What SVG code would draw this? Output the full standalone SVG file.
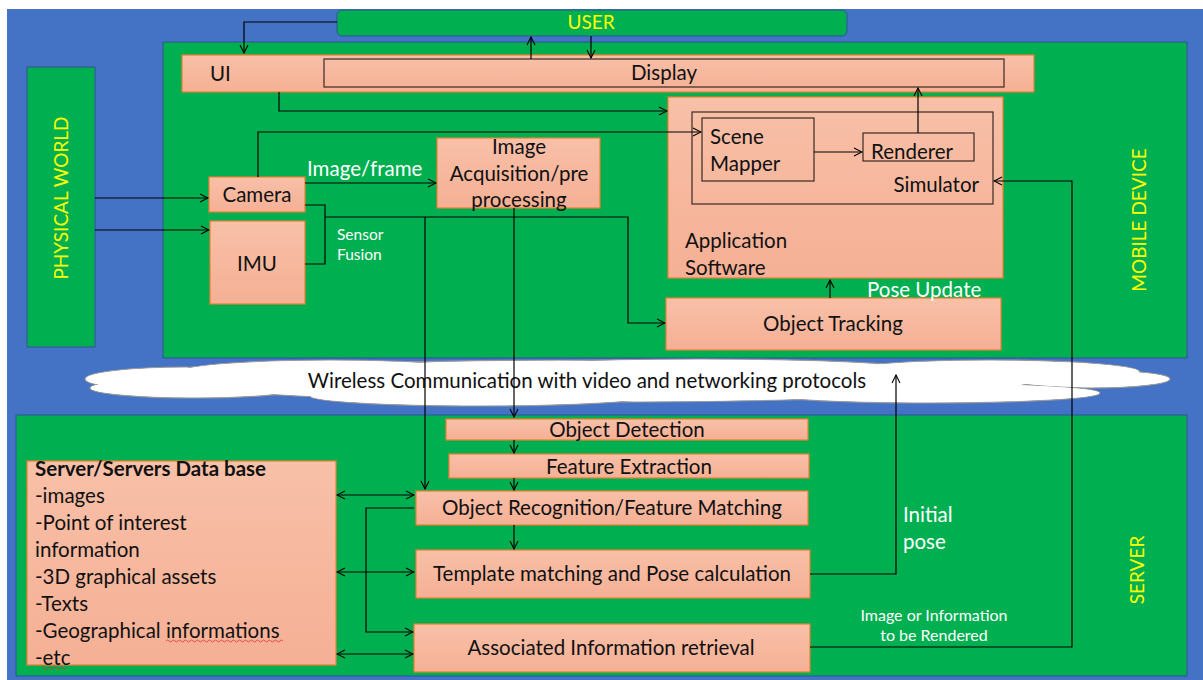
<svg xmlns="http://www.w3.org/2000/svg" width="1203" height="680" viewBox="0 0 1203 680">
  <defs>
    <style>
      .panel { fill: #00B050; stroke: #2F5597; stroke-width: 1; }
      .box { fill: url(#salmon); stroke: #ED7D31; stroke-width: 1.2; }
      .inner { fill: none; stroke: #3a2a22; stroke-width: 1.2; }
      .t { font-family: Lato, "Open Sans", sans-serif; fill: #111; font-size: 20.5px; }
      .w { font-family: Lato, "Open Sans", sans-serif; fill: #ffffff; }
      .y { font-family: Lato, "Open Sans", sans-serif; fill: #FFFF00; font-size: 19px; }
      .c { fill: none; stroke: #000; stroke-width: 1.2; }
    </style>
    <linearGradient id="salmon" x1="0" y1="0" x2="0" y2="1">
      <stop offset="0" stop-color="#F8C0A8"/>
      <stop offset="1" stop-color="#F5B095"/>
    </linearGradient>
    <marker id="ah" viewBox="0 0 10 10" refX="9" refY="5" markerWidth="10" markerHeight="10" markerUnits="userSpaceOnUse" orient="auto-start-reverse">
      <path d="M1,1 L9,5 L1,9" fill="none" stroke="#000" stroke-width="1.1"/>
    </marker>
  </defs>

  <!-- background -->
  <rect x="0" y="0" width="1203" height="680" fill="#ffffff"/>
  <rect x="7" y="9" width="1196" height="671" fill="#4472C4"/>

  <!-- regions -->
  <g id="user">
    <rect x="337" y="10" width="510" height="26" rx="5" class="panel"/>
    <text x="591" y="29" class="y" text-anchor="middle">USER</text>
  </g>
  <g id="mobile-device">
    <rect x="163" y="42" width="1024" height="316" class="panel"/>
    <text transform="translate(1146,220) rotate(-90)" class="y" text-anchor="middle">MOBILE DEVICE</text>
  </g>
  <g id="physical-world">
    <rect x="27" y="67" width="68" height="280" class="panel"/>
    <text transform="translate(68,198) rotate(-90)" class="y" text-anchor="middle">PHYSICAL WORLD</text>
  </g>
  <g id="server">
    <rect x="16" y="415" width="1171" height="261" class="panel"/>
    <text transform="translate(1144,570) rotate(-90)" class="y" text-anchor="middle">SERVER</text>
  </g>

  <!-- mobile device components -->
  <g id="ui">
    <rect x="182" y="55" width="852" height="37" class="box"/>
    <text x="210" y="81" class="t">UI</text>
  </g>
  <g id="display">
    <rect x="324" y="59" width="680" height="28" class="inner"/>
    <text x="664" y="80" class="t" text-anchor="middle">Display</text>
  </g>
  <g id="application-software">
    <rect x="668" y="97" width="335" height="181" class="box"/>
    <text x="685" y="248" class="t">Application</text>
    <text x="685" y="275" class="t">Software</text>
  </g>
  <g id="simulator">
    <rect x="692" y="112" width="301" height="92" class="inner"/>
    <text x="979" y="192" class="t" text-anchor="end">Simulator</text>
  </g>
  <g id="scene-mapper">
    <rect x="702" y="118" width="112" height="63" class="inner"/>
    <text x="710" y="144" class="t">Scene</text>
    <text x="710" y="171" class="t">Mapper</text>
  </g>
  <g id="renderer">
    <rect x="863" y="133" width="111" height="28" class="inner"/>
    <text x="871" y="159" class="t">Renderer</text>
  </g>
  <g id="camera">
    <rect x="209" y="177" width="96" height="35" class="box"/>
    <text x="257" y="202" class="t" text-anchor="middle">Camera</text>
  </g>
  <g id="imu">
    <rect x="210" y="221" width="95" height="83" class="box"/>
    <text x="257" y="271" class="t" text-anchor="middle">IMU</text>
  </g>
  <g id="image-acquisition">
    <rect x="437" y="138" width="163" height="70" class="box"/>
    <text x="519" y="154" class="t" text-anchor="middle">Image</text>
    <text x="519" y="181" class="t" text-anchor="middle">Acquisition/pre</text>
    <text x="519" y="207" class="t" text-anchor="middle">processing</text>
  </g>
  <g id="object-tracking">
    <rect x="666" y="298" width="335" height="52" class="box"/>
    <text x="833" y="331" class="t" text-anchor="middle">Object Tracking</text>
  </g>

  <!-- wireless link -->
  <g id="wireless">
    <g fill="#ffffff" stroke="#9a9a9a" stroke-width="1.2">
      <ellipse cx="600" cy="381" rx="430" ry="21"/>
      <ellipse cx="185" cy="379" rx="100" ry="12"/>
      <ellipse cx="330" cy="372" rx="150" ry="12"/>
      <ellipse cx="700" cy="369" rx="210" ry="10"/>
      <ellipse cx="990" cy="372" rx="150" ry="12"/>
      <ellipse cx="1090" cy="379" rx="80" ry="9"/>
      <ellipse cx="195" cy="388" rx="105" ry="10"/>
      <ellipse cx="480" cy="396" rx="170" ry="10"/>
      <ellipse cx="930" cy="393" rx="170" ry="10"/>
    </g>
    <g fill="#ffffff">
      <ellipse cx="600" cy="381" rx="429" ry="20"/>
      <ellipse cx="185" cy="379" rx="99" ry="11"/>
      <ellipse cx="330" cy="372" rx="149" ry="11"/>
      <ellipse cx="700" cy="369" rx="209" ry="9"/>
      <ellipse cx="990" cy="372" rx="149" ry="11"/>
      <ellipse cx="1090" cy="379" rx="79" ry="8"/>
      <ellipse cx="195" cy="388" rx="104" ry="9"/>
      <ellipse cx="480" cy="396" rx="169" ry="9"/>
      <ellipse cx="930" cy="393" rx="169" ry="9"/>
    </g>
    <text x="587" y="388" class="t" text-anchor="middle">Wireless Communication with video and networking protocols</text>
  </g>

  <!-- server components -->
  <g id="object-detection">
    <rect x="446" y="419" width="362" height="21" class="box"/>
    <text x="627" y="437" class="t" text-anchor="middle">Object Detection</text>
  </g>
  <g id="feature-extraction">
    <rect x="449" y="454" width="360" height="24" class="box"/>
    <text x="629" y="474" class="t" text-anchor="middle">Feature Extraction</text>
  </g>
  <g id="object-recognition">
    <rect x="416" y="491" width="392" height="34" class="box"/>
    <text x="612" y="515" class="t" text-anchor="middle">Object Recognition/Feature Matching</text>
  </g>
  <g id="template-matching">
    <rect x="416" y="550" width="394" height="48" class="box"/>
    <text x="612" y="581" class="t" text-anchor="middle">Template matching and Pose calculation</text>
  </g>
  <g id="information-retrieval">
    <rect x="414" y="624" width="396" height="48" class="box"/>
    <text x="611" y="655" class="t" text-anchor="middle">Associated Information retrieval</text>
  </g>
  <g id="database">
    <rect x="27" y="461" width="309" height="204" class="box"/>
    <text x="35" y="476" class="t" font-weight="bold">Server/Servers Data base</text>
    <text x="35" y="503" class="t">-images</text>
    <text x="35" y="530" class="t">-Point of interest</text>
    <text x="35" y="557" class="t">information</text>
    <text x="35" y="584" class="t">-3D graphical assets</text>
    <text x="35" y="611" class="t">-Texts</text>
    <text x="35" y="638" class="t">-Geographical informations</text>
    <text x="35" y="665" class="t">-etc</text>
    <path d="M166,641 q1.5,-2 3,0 t3,0 t3,0 t3,0 t3,0 t3,0 t3,0 t3,0 t3,0 t3,0 t3,0 t3,0 t3,0 t3,0 t3,0 t3,0 t3,0 t3,0 t3,0 t3,0 t3,0 t3,0 t3,0 t3,0 t3,0 t3,0 t3,0 t3,0 t3,0 t3,0 t3,0 t3,0 t3,0 t3,0 t3,0 t3,0 t3,0 t3,0 t3,0" fill="none" stroke="#e03030" stroke-width="0.8"/>
    <path d="M42,668 q1.5,-2 3,0 t3,0 t3,0 t3,0 t3,0 t3,0 t3,0 t3,0" fill="none" stroke="#e03030" stroke-width="0.8"/>
  </g>

  <!-- labels on links -->
  <g id="labels">
    <text x="307" y="176" class="w" font-size="20.5">Image/frame</text>
    <text x="337" y="240" class="w" font-size="15.5">Sensor</text>
    <text x="337" y="260" class="w" font-size="15.5">Fusion</text>
    <text x="867" y="297" class="w" font-size="20.5">Pose Update</text>
    <text x="903" y="522" class="w" font-size="20.5">Initial</text>
    <text x="903" y="549" class="w" font-size="20.5">pose</text>
    <text x="934" y="621" class="w" font-size="16" text-anchor="middle">Image or Information</text>
    <text x="934" y="641" class="w" font-size="16" text-anchor="middle">to be Rendered</text>
  </g>

  <!-- connectors -->
  <g id="connectors" class="c">
    <path d="M337,22 H244 V53" marker-end="url(#ah)"/>
    <path d="M531,59 V37" marker-end="url(#ah)"/>
    <path d="M591,36 V58" marker-end="url(#ah)"/>
    <path d="M279,92 V111 H667" marker-end="url(#ah)"/>
    <path d="M258,177 V132 H701" marker-end="url(#ah)"/>
    <path d="M814,152 H862" marker-end="url(#ah)"/>
    <path d="M918,133 V88" marker-end="url(#ah)"/>
    <path d="M95,198 H208" marker-end="url(#ah)"/>
    <path d="M95,230 H209" marker-end="url(#ah)"/>
    <path d="M305,183 H436" marker-end="url(#ah)"/>
    <path d="M305,205 H325 V264 H305"/>
    <path d="M325,217 H628 V323 H665" marker-end="url(#ah)"/>
    <path d="M425,217 V489" marker-end="url(#ah)"/>
    <path d="M514,208 V417" marker-end="url(#ah)"/>
    <path d="M830,298 V280" marker-end="url(#ah)"/>
    <path d="M810,647 H1072 V181 H994" marker-end="url(#ah)"/>
    <path d="M810,574 H896 V375" marker-end="url(#ah)"/>
    <path d="M514,440 V453" marker-end="url(#ah)"/>
    <path d="M514,478 V490" marker-end="url(#ah)"/>
    <path d="M514,525 V549" marker-end="url(#ah)"/>
    <path d="M337,495 H414" marker-start="url(#ah)" marker-end="url(#ah)"/>
    <path d="M337,572 H414" marker-start="url(#ah)" marker-end="url(#ah)"/>
    <path d="M337,654 H413" marker-start="url(#ah)" marker-end="url(#ah)"/>
    <path d="M414,508 H366 V632 H413" marker-end="url(#ah)"/>
  </g>
</svg>
